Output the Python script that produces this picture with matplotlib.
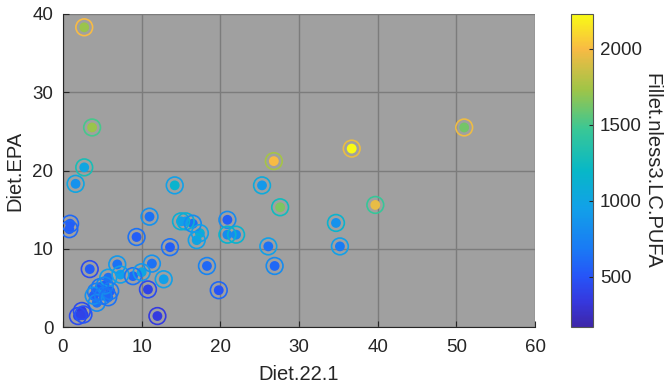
"""
Diet.22.1 vs Diet.EPA scatter, coloured by Fillet n<3 LC-PUFA (MATLAB style)
"""
import matplotlib
matplotlib.use('Agg')
import matplotlib.pyplot as plt
from matplotlib.colors import LinearSegmentedColormap, Normalize
import numpy as np

# data
diet_22_1 = [2.7, 3.7, 2.7, 1.6, 14.2, 25.3, 26.8, 36.7, 51.0, 27.6,
             39.7, 34.7, 35.2, 26.1, 20.9, 20.9, 22.0, 18.3, 26.9, 19.8,
             15.0, 15.6, 16.5, 17.4, 17.0, 0.9, 0.8, 11.0, 9.35, 13.6,
             12.0, 3.4, 6.9, 5.75, 7.3, 8.9, 10.0, 11.3, 10.8, 12.8,
             4.7, 4.2, 5.3, 6.0, 3.9, 4.3, 5.1, 5.75, 2.4, 1.9, 2.6]
diet_epa = [38.3, 25.5, 20.4, 18.3, 18.1, 18.1, 21.2, 22.8, 25.5, 15.3,
            15.6, 13.3, 10.3, 10.3, 13.7, 11.8, 11.8, 7.8, 7.8, 4.7,
            13.5, 13.5, 13.2, 12.0, 11.1, 13.2, 12.5, 14.1, 11.5, 10.2,
            1.4, 7.4, 8.0, 6.3, 6.7, 6.5, 7.0, 8.1, 4.8, 6.1,
            5.1, 4.5, 5.3, 4.6, 4.0, 3.1, 4.0, 3.8, 2.05, 1.4, 1.6]
# observed value (filled dot) and fitted value (ring)
fillet_obs = [1720, 1720, 1000, 850, 1150, 900, 2000, 2230, 1620, 1650,
              1950, 850, 700, 650, 550, 800, 800, 600, 600, 500,
              950, 950, 650, 1100, 1000, 550, 550, 650, 550, 550,
              350, 550, 650, 650, 950, 600, 1000, 650, 400, 950,
              550, 600, 550, 550, 550, 650, 700, 600, 350, 400, 400]
fillet_fit = [2000, 1500, 1300, 1000, 950, 1050, 1750, 1950, 1970, 1250,
              1450, 1150, 950, 950, 800, 1150, 1150, 750, 800, 600,
              1100, 1100, 800, 950, 950, 600, 600, 850, 650, 650,
              350, 450, 900, 950, 950, 650, 900, 850, 450, 950,
              650, 700, 800, 700, 850, 800, 700, 650, 450, 450, 500]
cbar_ticks = [500, 1000, 1500, 2000]

# approximate MATLAB parula
parula_pos = [0, 0.08, 0.16, 0.25, 0.38, 0.5, 0.63, 0.76, 0.89, 1]
parula_rgb = [(0.2422, 0.1504, 0.6603), (0.2100, 0.2200, 0.8700),
              (0.1500, 0.3300, 0.9700), (0.1000, 0.4800, 0.9600),
              (0.0700, 0.6300, 0.9100), (0.0300, 0.7200, 0.7800),
              (0.2200, 0.7800, 0.5900), (0.6250, 0.7700, 0.2800),
              (0.9739, 0.7314, 0.2664), (0.9769, 0.9839, 0.0805)]
parula = LinearSegmentedColormap.from_list('parula', list(zip(parula_pos, parula_rgb)))
norm = Normalize(vmin=170, vmax=2230)

plt.rcParams['font.family'] = ['Liberation Sans', 'DejaVu Sans']
txt = '#262626'

fig = plt.figure(figsize=(6.67, 3.92), dpi=100)
ax = fig.add_axes([63 / 667, 1 - 327 / 392, 472 / 667, 313 / 392])
ax.set_facecolor('#a0a0a0')

sc = ax.scatter(diet_22_1, diet_epa, c=fillet_obs, cmap=parula, norm=norm,
                s=50, edgecolors='none', zorder=3)
ax.scatter(diet_22_1, diet_epa, s=145, facecolors='none',
           edgecolors=parula(norm(np.array(fillet_fit))), linewidths=1.2, zorder=4)

ax.set_xlim(0, 60)
ax.set_ylim(0, 40)
ax.set_xticks(range(0, 61, 10))
ax.set_yticks(range(0, 41, 10))
ax.grid(True, color='#7c7c7c', linewidth=1.0, zorder=1)
ax.set_axisbelow(True)
for side in ['top', 'right']:
    ax.spines[side].set_visible(False)
for side in ['left', 'bottom']:
    ax.spines[side].set_color(txt)
    ax.spines[side].set_linewidth(0.8)
ax.tick_params(direction='in', length=4, width=0.8, colors=txt, labelsize=13.5)
ax.tick_params(axis='x', pad=9)
ax.tick_params(axis='y', pad=7)
ax.set_xlabel('Diet.22.1', fontsize=14.5, color=txt, labelpad=6)
ax.set_ylabel('Diet.EPA', fontsize=14.5, color=txt, labelpad=6)

cax = fig.add_axes([571 / 667, 1 - 327 / 392, 22 / 667, 313 / 392])
cb = fig.colorbar(sc, cax=cax, ticks=cbar_ticks)
cb.outline.set_edgecolor('#555555')
cb.outline.set_linewidth(0.8)
cax.tick_params(direction='in', length=3, width=0.8, colors=txt,
                labelsize=13.5, pad=5)
cb.set_label('Fillet.nless3.LC.PUFA', fontsize=14.5, color=txt,
             rotation=-90, labelpad=14)

plt.savefig('out.png', dpi=100)
plt.close()
